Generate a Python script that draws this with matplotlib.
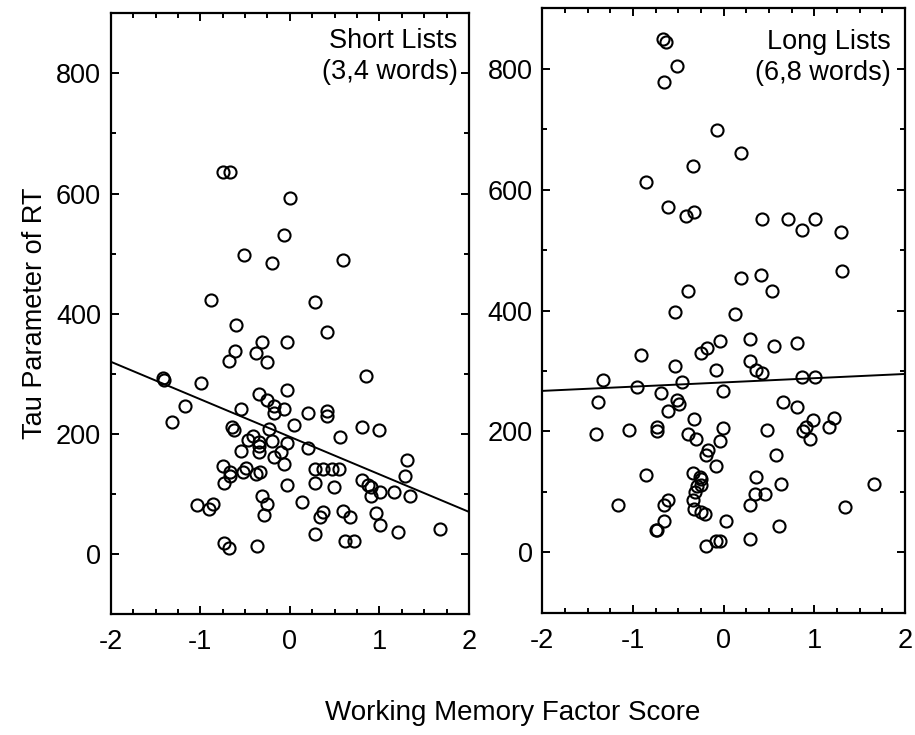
import matplotlib
matplotlib.use("Agg")
import matplotlib.pyplot as plt
from matplotlib.ticker import MultipleLocator

plt.rcParams['font.family'] = ['Liberation Sans', 'DejaVu Sans']
plt.rcParams['axes.unicode_minus'] = False

# short lists (3,4 words): working memory factor score vs tau
short_x = [-0.75, -0.67, 0.00, -0.07, -0.51, -0.20, 0.59, -0.88, 0.28, -0.60,
           0.41, -0.31, -0.03, -0.61, -0.38, -0.68, -0.26, -1.42, -1.40, 0.85,
           -0.99, -0.03, -0.34, -0.26, -1.17, -0.18, -0.06, -0.55, -0.18, 0.20,
           0.42, 0.42, -1.32, 0.05, -0.65, -0.62, -0.23, 0.80, 1.00, 0.56,
           -0.41, -0.47, -0.20, -0.34, -0.03, -0.34, 0.20, -0.55, -0.34, -0.10,
           -0.18, -0.07, 1.31, -0.75, -0.67, -0.49, -0.52, -0.38, -0.33, -0.67,
           0.28, 0.37, 0.47, 0.55, 1.28, -0.73, -0.03, 0.28, 0.49, 0.80,
           0.87, 0.91, 1.01, 1.16, 1.34, 0.91, -0.31, -0.26, 0.13, -1.04,
           -0.90, -0.86, -0.29, 0.59, 0.37, 0.34, 0.67, 0.96, 1.01, 0.28,
           1.21, 1.68, 0.61, 0.72, -0.73, -0.68, -0.37]
short_y = [635, 635, 593, 531, 497, 485, 489, 423, 419, 381,
           369, 353, 353, 338, 334, 322, 319, 293, 289, 297,
           284, 273, 266, 257, 246, 247, 242, 242, 234, 234,
           238, 230, 219, 214, 211, 206, 208, 211, 207, 195,
           196, 190, 188, 187, 184, 179, 176, 172, 169, 169,
           162, 150, 157, 146, 137, 143, 137, 133, 137, 130,
           142, 142, 142, 142, 130, 118, 115, 118, 111, 123,
           115, 112, 103, 103, 96, 96, 96, 83, 87, 81,
           75, 83, 65, 72, 69, 61, 61, 68, 48, 33,
           37, 41, 22, 22, 19, 10, 13]

# long lists (6,8 words)
long_x = [-0.67, -0.64, -0.51, -0.66, -0.07, 0.19, -0.34, -0.86, -0.61, -0.41,
          -0.33, 0.42, 0.71, 1.01, 0.86, 1.29, 1.31, 0.19, 0.41, -0.39,
          0.53, -0.54, 0.13, -0.04, 0.29, 0.56, 0.81, -0.91, -0.25, -0.18,
          -0.54, 0.29, -0.09, 0.36, 0.42, -1.33, 0.86, 1.01, -0.96, -0.46,
          -0.01, -0.69, -1.39, -0.51, -0.49, 0.65, 0.81, -0.61, -0.33, 0.99,
          1.22, -1.41, -1.04, -0.73, -0.73, -0.39, -0.31, -0.01, -0.04, 0.48,
          0.91, 0.88, 0.95, 1.16, -0.17, -0.19, 0.58, -0.09, -0.86, -0.34,
          -0.26, -0.25, -0.29, -0.25, 0.36, 0.63, 1.66, -0.32, 0.34, 0.46,
          -1.16, -0.66, -0.61, -0.34, -0.33, -0.25, -0.21, 0.29, 1.34, -0.66,
          0.03, 0.61, -0.75, -0.74, -0.19, -0.09, -0.04, 0.29]
long_y = [849, 845, 804, 778, 699, 661, 639, 613, 571, 556,
          563, 552, 552, 552, 534, 530, 466, 454, 458, 432,
          432, 398, 395, 349, 353, 342, 346, 327, 329, 338,
          308, 316, 301, 301, 297, 285, 290, 290, 274, 281,
          267, 263, 248, 252, 245, 248, 240, 233, 221, 218,
          222, 195, 203, 207, 200, 195, 188, 206, 184, 203,
          207, 200, 188, 207, 170, 161, 161, 142, 127, 131,
          124, 121, 109, 112, 124, 113, 113, 99, 97, 97,
          78, 79, 86, 86, 71, 67, 64, 78, 75, 52,
          52, 44, 37, 36, 11, 19, 19, 22]

# regression lines, values read at x = -2 and x = 2
line_x = [-2, 2]
short_line = [320, 70]
long_line = [267, 295]

x_ticks = [-2, -1, 0, 1, 2]
y_ticks = [0, 200, 400, 600, 800]

fig = plt.figure(figsize=(9.15, 7.35), dpi=100)
ax1 = fig.add_axes([0.121, 0.1646, 0.3916, 0.8173])
ax2 = fig.add_axes([0.5927, 0.1664, 0.3964, 0.8223])

panels = [(ax1, short_x, short_y, short_line, "Short Lists\n(3,4 words)", 0.968, 0.975),
          (ax2, long_x, long_y, long_line, "Long Lists\n(6,8 words)", 0.962, 0.965)]

for ax, xs, ys, ln, label, tx, ty in panels:
    ax.plot(xs, ys, 'o', ms=8.7, mfc='none', mec='black', mew=1.5,
            linestyle='none')
    ax.plot(line_x, ln, color='black', lw=1.4)
    ax.set_xlim(-2, 2)
    ax.set_ylim(-100, 900)
    ax.set_xticks(x_ticks)
    ax.set_yticks(y_ticks)
    ax.xaxis.set_minor_locator(MultipleLocator(0.25))
    ax.yaxis.set_minor_locator(MultipleLocator(100))
    ax.tick_params(which='both', direction='in', top=True, right=True,
                   width=1.4, labelsize=19.5)
    ax.tick_params(which='major', length=6)
    ax.tick_params(which='minor', length=3.5)
    ax.tick_params(axis='x', pad=11)
    ax.tick_params(axis='y', pad=7)
    for sp in ax.spines.values():
        sp.set_linewidth(1.6)
    ax.text(tx, ty, label, transform=ax.transAxes, ha='right', va='top',
            fontsize=19.5, multialignment='right', linespacing=1.25)

ax1.set_ylabel("Tau Parameter of RT", fontsize=19.5, labelpad=6)
fig.text(0.56, 0.030, "Working Memory Factor Score", ha='center',
         va='center', fontsize=20)

fig.savefig("out.png", dpi=100)
